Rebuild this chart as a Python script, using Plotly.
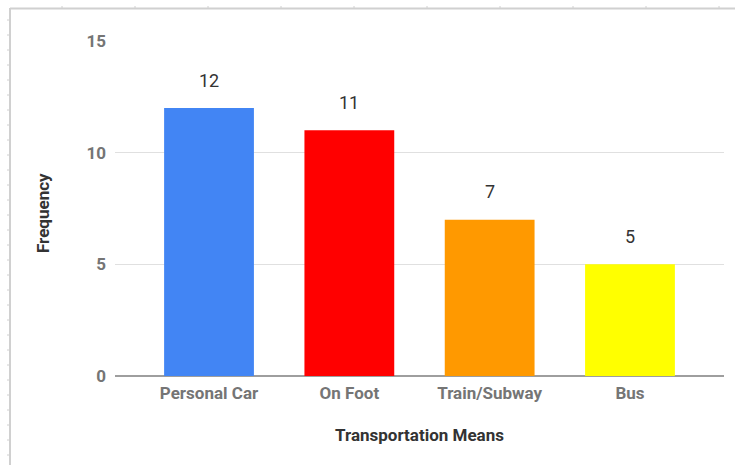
import plotly.graph_objects as go

categories = ["Personal Car", "On Foot", "Train/Subway", "Bus"]
frequency = [12, 11, 7, 5]
bar_colors = ["#4285f4", "#ff0000", "#ff9900", "#ffff00"]
y_ticks = [0, 5, 10, 15]

W, H = 735, 465
ML, MR, MT, MB = 115, 11, 41, 89
PW, PH = W - ML - MR, H - MT - MB


def px_x(px):
    return (px - ML) / PW


def px_y(py):
    return (H - MB - py) / PH


fig = go.Figure(
    go.Bar(
        x=list(range(len(categories))),
        y=frequency,
        marker=dict(color=bar_colors, line=dict(width=0)),
        width=0.64,
        hoverinfo="x+y",
    )
)

# value labels above each bar
for i, v in enumerate(frequency):
    fig.add_annotation(
        x=i, y=v, text=str(v), showarrow=False, yshift=28,
        font=dict(family="Roboto", size=18, color="#333333"),
    )

# vertical axis title
fig.add_annotation(
    xref="paper", yref="paper", x=px_x(43), y=px_y(213),
    text="Frequency", textangle=-90, showarrow=False,
    xanchor="center", yanchor="middle",
    font=dict(family="Roboto", size=17, color="#333333", weight="bold"),
)

# sheet-style frame with ruler ticks
frame = "#d0d0d0"
shapes = [
    dict(type="line", xref="paper", yref="paper", x0=px_x(10), x1=px_x(736),
         y0=px_y(8.5), y1=px_y(8.5), line=dict(color=frame, width=2)),
    dict(type="line", xref="paper", yref="paper", x0=px_x(10), x1=px_x(10),
         y0=px_y(8), y1=px_y(466), line=dict(color=frame, width=2)),
]
for tx in range(62, 735, 73):
    shapes.append(dict(type="line", xref="paper", yref="paper", x0=px_x(tx), x1=px_x(tx),
                       y0=px_y(6), y1=px_y(8), line=dict(color=frame, width=1)))
for ty in range(20, 465, 15):
    shapes.append(dict(type="line", xref="paper", yref="paper", x0=px_x(7), x1=px_x(9),
                       y0=px_y(ty), y1=px_y(ty), line=dict(color=frame, width=1)))

fig.update_layout(
    width=W, height=H,
    margin=dict(l=ML, r=MR, t=MT, b=MB),
    paper_bgcolor="white", plot_bgcolor="white",
    showlegend=False,
    shapes=shapes,
    xaxis=dict(
        range=[-0.67, 3.67],
        tickmode="array", tickvals=list(range(len(categories))), ticktext=categories,
        tickfont=dict(family="Roboto", size=17, color="#757575", weight="bold"),
        showgrid=False, zeroline=False, showline=False, ticks="",
        ticklabelstandoff=5,
        title=dict(text="Transportation Means", standoff=27,
                   font=dict(family="Roboto", size=17, color="#333333", weight="bold")),
    ),
    yaxis=dict(
        range=[0, 15],
        tickmode="array", tickvals=y_ticks,
        tickfont=dict(family="Roboto", size=17, color="#757575", weight="bold"),
        showgrid=True, gridcolor="#e0e0e0", gridwidth=1,
        zeroline=True, zerolinecolor="#9e9e9e", zerolinewidth=1.5,
        showline=False, ticks="", ticklabelstandoff=8,
    ),
)

fig.write_html("out.html")
